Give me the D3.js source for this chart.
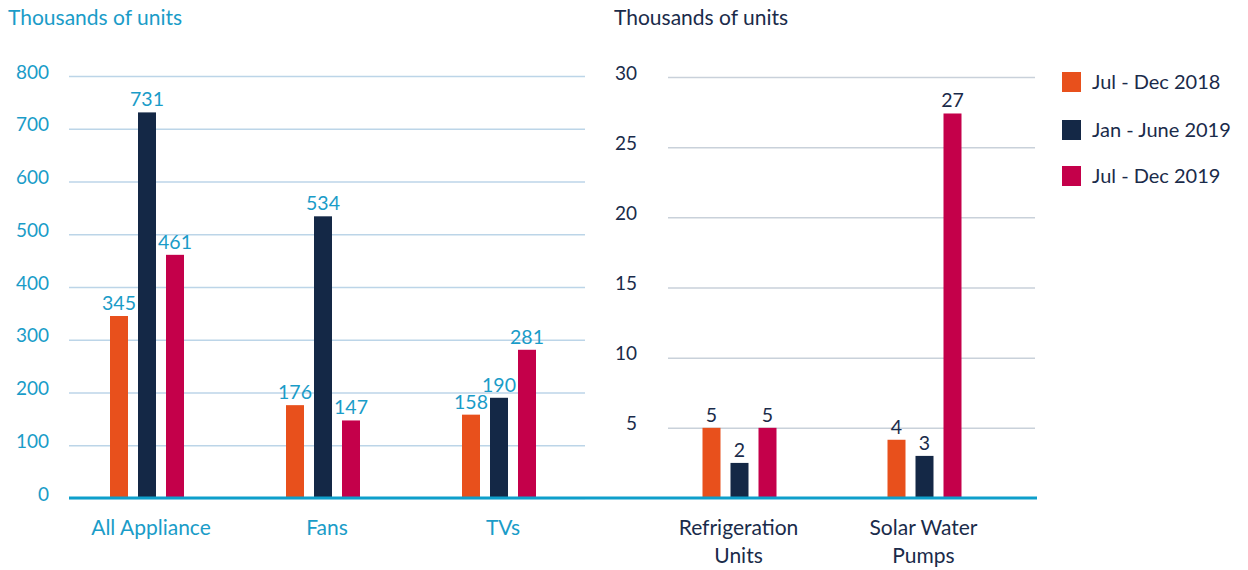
<!DOCTYPE html>
<html><head><meta charset="utf-8">
<script src="https://cdn.jsdelivr.net/npm/d3@7"></script>
<style>body{margin:0;background:#fff}svg{display:block;font-family:Lato,"Open Sans",sans-serif}</style>
</head><body><svg id="c" width="1248" height="570"></svg>
<script>
const series = ["Jul - Dec 2018", "Jan - June 2019", "Jul - Dec 2019"];
const colors = ["#e8501c", "#142846", "#c4004a"];
const leftCats = ["All Appliance", "Fans", "TVs"];
const leftVals = [[345, 731, 461], [176, 534, 147], [158, 190, 281]];
const leftTicks = [0, 100, 200, 300, 400, 500, 600, 700, 800];
const rightCats = [["Refrigeration", "Units"], ["Solar Water", "Pumps"]];
const rightVals = [[5.0, 2.5, 5.0], [4.15, 3.0, 27.4]];
const rightLabels = [["5", "2", "5"], ["4", "3", "27"]];
const rightTicks = [5, 10, 15, 20, 25, 30];
const yTitle = "Thousands of units";

const cyan = "#1a9cc8", navy = "#1a2b4a";
const svg = d3.select("#c");
const base = 498;

// left chart
const yL = d3.scaleLinear().domain([0, 800]).range([base, 76]);
const xL = d3.scaleBand().domain(leftCats).range([59, 587]);
const sub = d3.scaleBand().domain(series).range([-37, 37]).paddingInner(10/28).paddingOuter(0);

const axL = svg.append("g").attr("transform", "translate(69,0)")
  .call(d3.axisLeft(yL).tickValues(leftTicks).tickSize(-(585 - 69)).tickPadding(20).tickFormat(d3.format("d")));
axL.select(".domain").remove();
axL.selectAll("line").attr("stroke", "#bcd5e8").attr("stroke-width", 1.5);
axL.selectAll("text").attr("fill", cyan).attr("font-size", 19).attr("font-family", "Lato").attr("y", -4);

const yR = d3.scaleLinear().domain([0, 30]).range([base, 77]);
const xR = d3.scaleBand().domain(rightCats.map(d => d.join(" "))).range([647, 1017]);
const axR = svg.append("g").attr("transform", "translate(668,0)")
  .call(d3.axisLeft(yR).tickValues(rightTicks).tickSize(-(1035 - 668)).tickPadding(31).tickFormat(d3.format("d")));
axR.select(".domain").remove();
axR.selectAll("line").attr("stroke", "#c9d1da").attr("stroke-width", 1.5);
axR.selectAll("text").attr("fill", navy).attr("font-size", 19).attr("font-family", "Lato").attr("y", -4);

// titles
svg.append("text").attr("x", 8).attr("y", 25).attr("fill", cyan).attr("font-size", 21).text(yTitle);
svg.append("text").attr("x", 614).attr("y", 25).attr("fill", navy).attr("font-size", 21).text(yTitle);

// left bars
leftCats.forEach((c, i) => {
  const g = svg.append("g").attr("transform", `translate(${xL(c) + xL.bandwidth()/2},0)`);
  series.forEach((s, j) => {
    const v = leftVals[i][j];
    g.append("rect").attr("x", sub(s)).attr("width", sub.bandwidth())
      .attr("y", yL(v)).attr("height", base - yL(v)).attr("fill", colors[j]);
    g.append("text").attr("x", sub(s) + sub.bandwidth()/2).attr("y", yL(v) - 6)
      .attr("text-anchor", "middle").attr("fill", cyan).attr("font-size", 19.5).text(v);
  });
  g.append("text").attr("x", 4).attr("y", 535).attr("text-anchor", "middle")
    .attr("fill", cyan).attr("font-size", 21).text(c);
});

// right bars
rightCats.forEach((c, i) => {
  const key = c.join(" ");
  const g = svg.append("g").attr("transform", `translate(${xR(key) + xR.bandwidth()/2},0)`);
  series.forEach((s, j) => {
    const v = rightVals[i][j];
    g.append("rect").attr("x", sub(s)).attr("width", sub.bandwidth())
      .attr("y", yR(v)).attr("height", base - yR(v)).attr("fill", colors[j]);
    g.append("text").attr("x", sub(s) + sub.bandwidth()/2).attr("y", yR(v) - 6)
      .attr("text-anchor", "middle").attr("fill", navy).attr("font-size", 19.5).text(rightLabels[i][j]);
  });
  c.forEach((line, k) => {
    g.append("text").attr("x", -1).attr("y", 535 + k * 28).attr("text-anchor", "middle")
      .attr("fill", navy).attr("font-size", 21).text(line);
  });
});

// baseline
svg.append("line").attr("x1", 69).attr("x2", 1037).attr("y1", base).attr("y2", base)
  .attr("stroke", "#0e9fcb").attr("stroke-width", 3);

// legend
const lg = svg.append("g");
const legY = [82, 130, 176];
series.forEach((s, j) => {
  lg.append("rect").attr("x", 1062).attr("y", legY[j] - 10).attr("width", 19).attr("height", 20).attr("fill", colors[j]);
  lg.append("text").attr("x", 1092).attr("y", legY[j] + 7).attr("fill", navy).attr("font-size", 20).text(s);
});
</script></body></html>
